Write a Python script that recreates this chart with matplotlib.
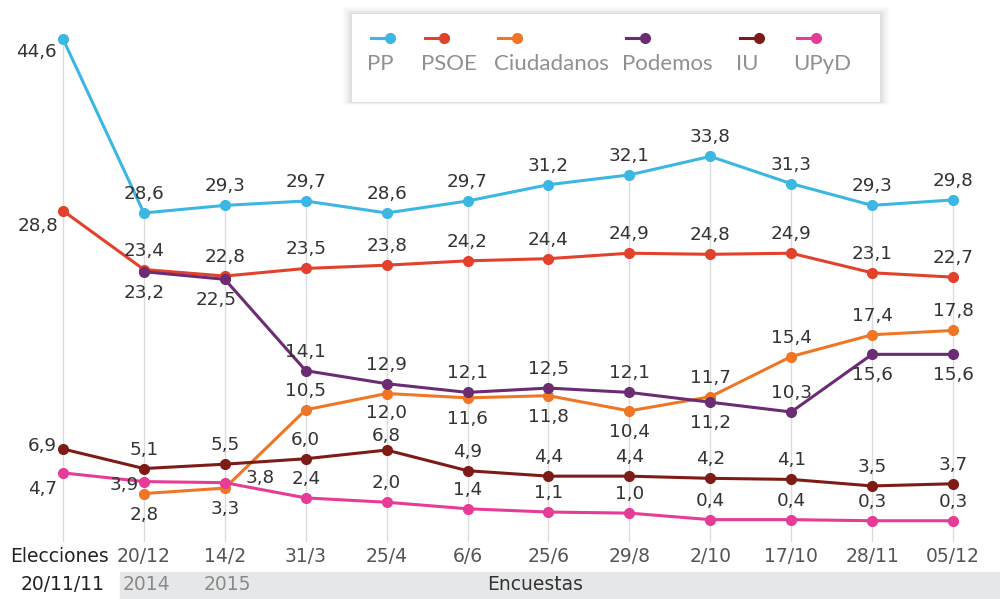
import matplotlib
matplotlib.use("Agg")
import matplotlib.pyplot as plt
from matplotlib.patches import Rectangle
import numpy as np

# --- data -------------------------------------------------------------
fechas = ["Elecciones", "20/12", "14/2", "31/3", "25/4", "6/6", "25/6",
          "29/8", "2/10", "17/10", "28/11", "05/12"]

pp = [44.6, 28.6, 29.3, 29.7, 28.6, 29.7, 31.2, 32.1, 33.8, 31.3, 29.3, 29.8]
psoe = [28.8, 23.4, 22.8, 23.5, 23.8, 24.2, 24.4, 24.9, 24.8, 24.9, 23.1, 22.7]
ciudadanos = [None, 2.8, 3.3, 10.5, 12.0, 11.6, 11.8, 10.4, 11.7, 15.4, 17.4, 17.8]
podemos = [None, 23.2, 22.5, 14.1, 12.9, 12.1, 12.5, 12.1, 11.2, 10.3, 15.6, 15.6]
iu = [6.9, 5.1, 5.5, 6.0, 6.8, 4.9, 4.4, 4.4, 4.2, 4.1, 3.5, 3.7]
upyd = [4.7, 3.9, 3.8, 2.4, 2.0, 1.4, 1.1, 1.0, 0.4, 0.4, 0.3, 0.3]

# label placement (offset in pixels, alignment)
A = (0, 19, "center")
B = (0, -21, "center")
pos_pp = [(-6, -13, "right")] + [A] * 11
pos_psoe = [(-5, -15, "right")] + [A] * 11
pos_cs = [None, B, B, A, (0, -19, "center"), B, B, B, A, A, A, A]
pos_pod = [None, B, (-9, -21, "center"), A, A, A, A, A, B, A, B, B]
pos_iu = [(-6, 3, "right"), A, A, A, (0, 14, "center")] + [A] * 7
pos_upyd = [(-6, -16, "right"), (-5, -3, "right"), (21, 5, "left")] + [A] * 9

series = [
    ("PP", pp, "#3cb6e3", pos_pp),
    ("PSOE", psoe, "#e2412b", pos_psoe),
    ("Ciudadanos", ciudadanos, "#ef7624", pos_cs),
    ("Podemos", podemos, "#6b2c74", pos_pod),
    ("IU", iu, "#7e1b17", pos_iu),
    ("UPyD", upyd, "#e63b97", pos_upyd),
]

W, H = 1000, 599
fig = plt.figure(figsize=(W / 100, H / 100), dpi=100)
ax = fig.add_axes([0, 0, 1, 1])
ax.set_axis_off()

step = 890 / 11
x0 = -63 / step
ax.set_xlim(x0, x0 + W / step)
upp = 10.875  # pixels per unit
ax.set_ylim(-(H - 524) / upp, 524 / upp)

x = np.arange(len(fechas))

# vertical guide lines from bottom to top-most point
for i in x:
    top = max(v for _, vals, _, _ in series if (v := vals[i]) is not None)
    ax.plot([i, i], [-1.6, top], color="#dcdcdc", lw=1, zorder=1)

label_font = dict(family=["DejaVu Sans"], fontsize=13.2, color="#333333")

for name, vals, color, pos in series:
    xs = [i for i, v in zip(x, vals) if v is not None]
    ys = [v for v in vals if v is not None]
    ax.plot(xs, ys, color=color, lw=2.2, marker="o", markersize=7,
            zorder=3, solid_capstyle="round")
    for i, v in zip(xs, ys):
        dx, dy, ha = pos[i]
        ax.annotate(f"{v:.1f}".replace(".", ","), (i, v),
                    xytext=(dx, dy), textcoords="offset pixels",
                    ha=ha, va="center", zorder=4, **label_font)

# x labels
tick_font = dict(family=["DejaVu Sans"], fontsize=13.5, color="#555555")


def px(xp, yp):
    return xp / W, 1 - yp / H


for i, f in enumerate(fechas):
    c = "#222222" if i == 0 else "#555555"
    xi = i - 3 / step if i == 0 else i
    ax.text(xi, -(557 - 524) / upp, f, ha="center", va="center",
            **dict(tick_font, color=c))

fig.patches.append(Rectangle(px(120, 599), 880 / W, 27 / H,
                             transform=fig.transFigure, color="#e6e7e8",
                             zorder=0))
fig.text(*px(63, 585), "20/11/11", ha="center", va="center",
         **dict(tick_font, color="#222222"))
gray_font = dict(tick_font, color="#8a8a8a")
fig.text(*px(146, 585), "2014", ha="center", va="center", **gray_font)
fig.text(*px(227, 585), "2015", ha="center", va="center", **gray_font)
fig.text(*px(535, 585), "Encuestas", ha="center", va="center",
         **dict(tick_font, color="#333333"))

# legend box with soft shadow
for k, a in enumerate([0.015, 0.02, 0.025, 0.03, 0.035]):
    g = 10 - k * 2
    fig.patches.append(Rectangle(px(352 - g, 102 + g * 0.3),
                                 (528 + 2 * g) / W, (88 + g * 1.0) / H,
                                 transform=fig.transFigure,
                                 color="black", alpha=a, lw=0, zorder=5))
fig.patches.append(Rectangle(px(352, 102), 528 / W, 88 / H,
                             transform=fig.transFigure, color="white",
                             lw=0, zorder=6))

leg_x = [367, 421, 494, 622, 736, 793]
for (name, _, color, _), lx in zip(series, leg_x):
    x1, y1 = px(lx + 4, 38)
    x2, _ = px(lx + 23, 38)
    fig.add_artist(plt.Line2D([x1, x2], [y1, y1], color=color, lw=2.2,
                              transform=fig.transFigure, zorder=7))
    fig.add_artist(plt.Line2D([x2], [y1], color=color, marker="o",
                              markersize=7, transform=fig.transFigure,
                              zorder=7))
    fig.text(*px(lx, 64), name, ha="left", va="center", color="#909090",
             family=["Lato", "DejaVu Sans"], fontsize=16, zorder=8)

fig.savefig("out.png", dpi=100, facecolor="white")
